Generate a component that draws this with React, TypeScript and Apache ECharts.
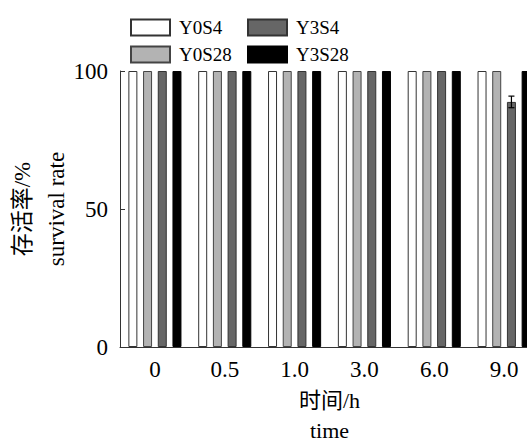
import React, { useEffect, useRef } from "react";
import * as echarts from "echarts";

const categories = ["0", "0.5", "1.0", "3.0", "6.0", "9.0"];
const seriesNames = ["Y0S4", "Y0S28", "Y3S4", "Y3S28"];
const Y0S4 = [100, 100, 100, 100, 100, 100];
const Y0S28 = [100, 100, 100, 100, 100, 100];
const Y3S4 = [100, 100, 100, 100, 100, 88.8];
const Y3S28 = [100, 100, 100, 100, 100, 100];
const Y3S4Err = [0, 0, 0, 0, 0, 2.1];
const yTicks = [0, 50, 100];

const FONT = "'Liberation Serif', 'Times New Roman', 'Noto Sans CJK SC', serif";
const BAR_W = 9;
const BAR_GAP = 5.7;

export default function App() {
  const ref = useRef<HTMLDivElement>(null);
  useEffect(() => {
    document.body.style.margin = "0";
    const chart = echarts.init(ref.current!, null, { renderer: "svg" });
    const colors = ["#ffffff", "#b3b3b3", "#666666", "#000000"];
    const borders = ["#333333", "#444444", "#333333", "#000000"];
    const datas = [Y0S4, Y0S28, Y3S4, Y3S28];
    const barSeries = seriesNames.map((n, i) => ({
      name: n,
      type: "bar",
      data: datas[i],
      barWidth: BAR_W,
      barGap: (BAR_GAP / BAR_W) * 100 + "%",
      itemStyle: { color: colors[i], borderColor: borders[i], borderWidth: 1 },
    }));
    const errData = Y3S4.map((v, i) => [i, v, Y3S4Err[i]]).filter((d) => d[2] > 0);
    const legendCommon = {
      orient: "vertical",
      top: 13,
      itemWidth: 39,
      itemHeight: 16,
      itemGap: 8,
      icon: "rect",
      textStyle: { fontFamily: FONT, fontSize: 19, color: "#000", padding: [0, 0, 0, 4] },
      selectedMode: false,
    };
    const option: any = {
      animation: false,
      textStyle: { fontFamily: FONT },
      legend: [
        { ...legendCommon, data: ["Y0S4", "Y0S28"], left: 125 },
        { ...legendCommon, data: ["Y3S4", "Y3S28"], left: 242 },
      ],
      grid: { left: 120, top: 71, width: 419, height: 276, outerBoundsMode: "none", containLabel: false },
      xAxis: {
        type: "category",
        data: categories,
        axisLine: { lineStyle: { color: "#333", width: 1 } },
        axisTick: { inside: true, alignWithLabel: true, length: 4, lineStyle: { color: "#333" } },
        axisLabel: { fontFamily: FONT, fontSize: 23, color: "#000", margin: 11 },
        name: "{a|时间/h}\n{b|time}",
        nameLocation: "middle",
        nameGap: 32,
        nameMoveOverlap: false,
        nameTextStyle: {
          fontFamily: FONT,
          fontSize: 22,
          color: "#000",
          rich: {
            a: { fontFamily: FONT, fontSize: 22, color: "#000", lineHeight: 42 },
            b: { fontFamily: FONT, fontSize: 22, color: "#000", lineHeight: 18 },
          },
        },
      },
      yAxis: {
        type: "value",
        min: 0,
        max: 100,
        interval: 50,
        splitLine: { show: false },
        axisLine: { show: true, lineStyle: { color: "#333", width: 1 } },
        axisTick: { show: true, inside: true, length: 5, lineStyle: { color: "#333" } },
        axisLabel: {
          fontFamily: FONT,
          fontSize: 23,
          color: "#000",
          margin: 12,
          formatter: (v: number) => (yTicks.includes(v) ? String(v) : ""),
        },
        name: "存活率/%\nsurvival rate",
        nameLocation: "middle",
        nameRotate: 90,
        nameGap: 47,
        nameMoveOverlap: false,
        nameTextStyle: { fontFamily: FONT, fontSize: 23, color: "#000", lineHeight: 34 },
      },
      series: [
        ...barSeries,
        {
          type: "custom",
          name: "err",
          data: errData,
          z: 10,
          renderItem: (params: any, api: any) => {
            const idx = api.value(0);
            const v = api.value(1);
            const e = api.value(2);
            const off = 0.5 * (BAR_W + BAR_GAP);
            const top = api.coord([idx, v + e]);
            const bot = api.coord([idx, v - e]);
            const x = top[0] + off;
            const hw = 3;
            const st = { stroke: "#000", lineWidth: 1.2 };
            return {
              type: "group",
              children: [
                { type: "line", shape: { x1: x, y1: top[1], x2: x, y2: bot[1] }, style: st },
                { type: "line", shape: { x1: x - hw, y1: top[1], x2: x + hw, y2: top[1] }, style: st },
                { type: "line", shape: { x1: x - hw, y1: bot[1], x2: x + hw, y2: bot[1] }, style: st },
              ],
            };
          },
        },
      ],
    };
    chart.setOption(option);
    return () => chart.dispose();
  }, []);
  return <div ref={ref} style={{ width: 527, height: 441 }} />;
}
